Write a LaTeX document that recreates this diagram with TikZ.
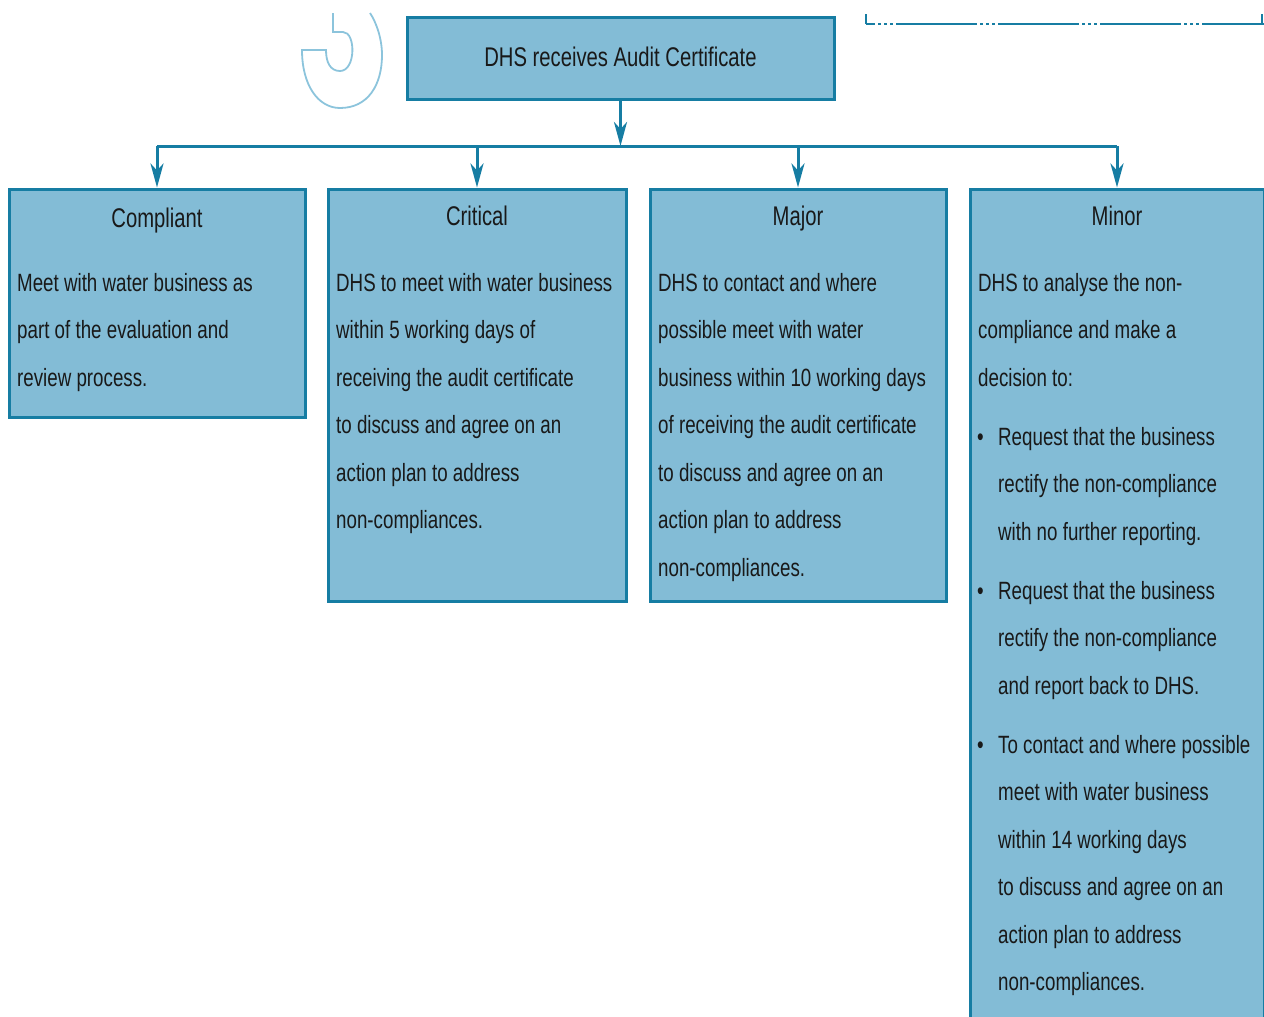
\documentclass[tikz,border=0pt]{standalone}
\usepackage{fontspec}
\setmainfont{Liberation Sans}[FakeStretch=0.75]
\usetikzlibrary{arrows.meta}
\definecolor{boxfill}{RGB}{131,188,214}
\definecolor{boxline}{RGB}{22,125,163}
\definecolor{numline}{RGB}{140,196,220}
\definecolor{ink}{RGB}{25,25,25}
\begin{document}
\begin{tikzpicture}[x=1pt,y=-1pt,
  level/.style={draw=boxline, fill=boxfill, line width=3pt, inner sep=0pt},
  head/.style={font=\fontsize{27}{32}\selectfont, text=ink, anchor=base, inner sep=0pt},
  body/.style={font=\fontsize{25}{47.5}\selectfont, align=left, anchor=base west, inner sep=0pt, text=ink},
  link/.style={draw=boxline, line width=3pt},
  tip/.style={link, -{Stealth[length=24pt,width=13pt,inset=7pt]}}]
\useasboundingbox (0,0) rectangle (1264,1017);
\clip (0,0) rectangle (1264,1017);
% number outline and frame above
\draw[numline, line width=1.8pt] (333,13) -- (333,32) -- (343,32) .. controls (356,32) and (356,71) .. (340,71) .. controls (330,71) and (326,62) .. (326,50) -- (302,50) .. controls (302,85) and (318,108) .. (340,108) .. controls (368,108) and (382,85) .. (382,55) .. controls (382,38) and (376,22) .. (370,13);
\draw[boxline, line width=2.5pt] (866,14) -- (866,24);
\draw[boxline, line width=2.5pt, dash pattern=on 81pt off 3pt on 3pt off 3pt on 3pt off 3pt on 3pt off 3pt, dash phase=72pt] (866,24) -- (1264,24);
\draw[boxline, line width=2.5pt] (1262,14) -- (1262,24);
% boxes
\node[level, minimum width=427pt, minimum height=82pt] (cert) at (620.5,58) {};
\node[level, minimum width=296pt, minimum height=228pt] (compliant) at (157,303) {};
\node[level, minimum width=298pt, minimum height=412pt] (critical) at (477,395) {};
\node[level, minimum width=296pt, minimum height=412pt] (major) at (798,395) {};
\node[level, minimum width=294pt, minimum height=850pt] (minor) at (1117,614) {};
\coordinate (bus) at (620.5,146);
% connectors
\draw[tip] (cert.south) -- (bus);
\draw[link] (compliant.north |- bus) -- (minor.north |- bus);
\draw[tip] (compliant.north |- bus) -- (compliant.north);
\draw[tip] (critical.north |- bus) -- (critical.north);
\draw[tip] (major.north |- bus) -- (major.north);
\draw[tip] (minor.north |- bus) -- (minor.north);
% texts (base = last line)
\node[head] (certT) at (620.5,66) {DHS receives Audit Certificate};
\node[head] (complT) at (157,227) {Compliant};
\node[head] (critT) at (477,225) {Critical};
\node[head] (majT) at (798,225) {Major};
\node[head] (minT) at (1117,225) {Minor};
\node[body] (complB) at (17,386) {Meet with water business as\\part of the evaluation and\\review process.};
\node[body] (critB) at (336,528.5) {DHS to meet with water business\\within 5 working days of\\receiving the audit certificate\\to discuss and agree on an\\action plan to address\\non-compliances.};
\node[body] (majB) at (658,576) {DHS to contact and where\\possible meet with water\\business within 10 working days\\of receiving the audit certificate\\to discuss and agree on an\\action plan to address\\non-compliances.};
\node[body] (minB) at (978,386) {DHS to analyse the non-\\compliance and make a\\decision to:};
\node[body] (dotA) at (977,445) {•};
\node[body] (minB1) at (998,540) {Request that the business\\rectify the non-compliance\\with no further reporting.};
\node[body] (dotB) at (977,599) {•};
\node[body] (minB2) at (998,694) {Request that the business\\rectify the non-compliance\\and report back to DHS.};
\node[body] (dotC) at (977,753) {•};
\node[body] (minB3) at (998,990.5) {To contact and where possible\\meet with water business\\within 14 working days\\to discuss and agree on an\\action plan to address\\non-compliances.};
\end{tikzpicture}
\end{document}
